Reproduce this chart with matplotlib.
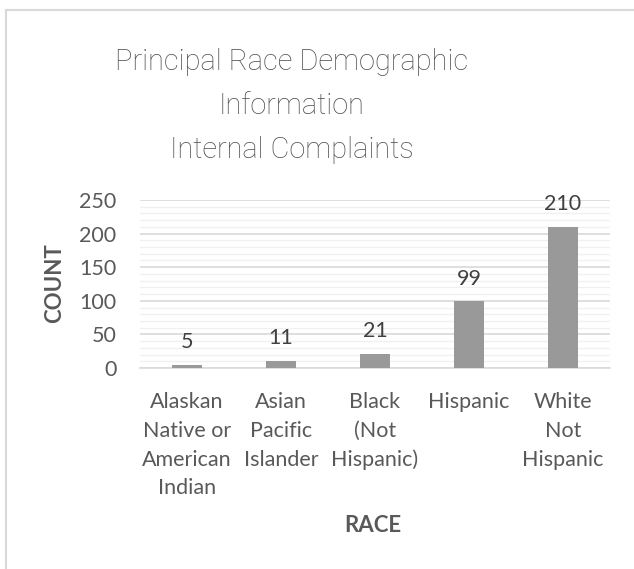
import matplotlib
matplotlib.use("Agg")
import matplotlib.pyplot as plt
from matplotlib.ticker import MultipleLocator

categories = ["Alaskan\nNative or\nAmerican\nIndian", "Asian\nPacific\nIslander",
              "Black\n(Not\nHispanic)", "Hispanic", "White\nNot\nHispanic"]
counts = [5, 11, 21, 99, 210]
title_lines = ["Principal Race Demographic", "Information", "Internal Complaints"]

FONT = "Lato"
TXT = "#595959"

fig = plt.figure(figsize=(6.34, 5.69), dpi=100)
fig.patch.set_facecolor("white")

# outer chart border (top & left visible)
fig.add_artist(plt.Line2D([6/634, 6/634], [0, 1-10/569], color="#d9d9d9", lw=1.5))
fig.add_artist(plt.Line2D([6/634, 1], [1-10/569, 1-10/569], color="#d9d9d9", lw=1.5))

ax = fig.add_axes([140/634, 1-368/569, 470/634, 168/569])
x = list(range(len(categories)))
ax.bar(x, counts, width=0.31, color="#999999", zorder=3)
ax.set_xlim(-0.5, len(categories)-0.5)
ax.set_ylim(0, 250)
ax.yaxis.set_major_locator(MultipleLocator(50))
ax.yaxis.set_minor_locator(MultipleLocator(10))
ax.grid(axis="y", which="major", color="#d9d9d9", lw=1.2, zorder=1)
ax.grid(axis="y", which="minor", color="#f0f0f0", lw=1.0, zorder=0)
for s in ["top", "right", "left"]:
    ax.spines[s].set_visible(False)
ax.spines["bottom"].set_color("#d9d9d9")
ax.spines["bottom"].set_linewidth(1.2)
ax.tick_params(axis="both", which="both", length=0, colors=TXT, labelsize=15.5)
ax.set_xticks(x)
ax.set_xticklabels(categories, fontfamily=FONT, color=TXT, linespacing=1.56, va="top")
ax.tick_params(axis="x", pad=17)
ax.tick_params(axis="y", pad=17)
for lbl in ax.get_yticklabels():
    lbl.set_fontfamily(FONT)

for xi, v in zip(x, counts):
    ax.annotate(str(v), (xi, v), xytext=(0, 9), textcoords="offset points",
                ha="center", va="bottom", fontsize=15.5, color="#404040", fontfamily=FONT)

fig.text(55/634, 1-283/569, "COUNT", ha="center", va="center", rotation=90, fontsize=16,
         fontweight="bold", color=TXT, fontfamily=FONT)
fig.text(373/634, 1-526/569, "RACE", ha="center", va="center", fontsize=16,
         fontweight="bold", color=TXT, fontfamily=FONT)

for i, t in enumerate(title_lines):
    fig.text(292/634, 1-(62+44*i)/569, t, ha="center", va="center", fontsize=20.9,
             color="#505050", fontfamily="Roboto", fontweight="light")

fig.savefig("out.png", dpi=100, facecolor="white")
